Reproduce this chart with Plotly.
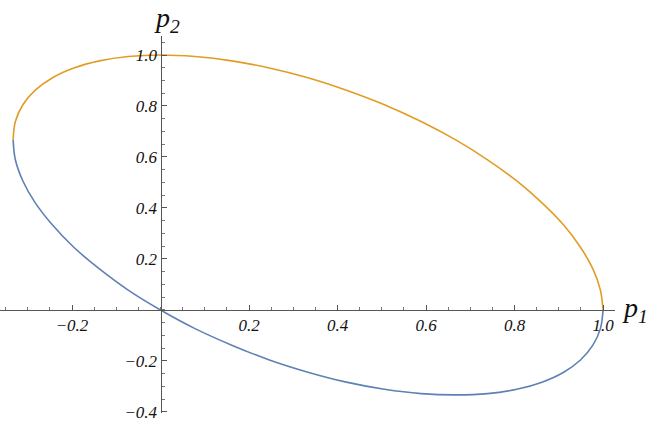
import plotly.graph_objects as go

BLUE = "#5E81B5"
ORANGE = "#E19C24"

# curve points
blue_p1 = [-0.333, -0.328, -0.311, -0.283, -0.244, -0.196, -0.138, -0.073, 0.0,
           0.078, 0.161, 0.246, 0.333, 0.420, 0.506, 0.589, 0.667, 0.739, 0.805,
           0.862, 0.911, 0.949, 0.977, 0.994, 1.0]
blue_p2 = [0.667, 0.589, 0.506, 0.420, 0.333, 0.246, 0.161, 0.078, 0.0,
           -0.073, -0.138, -0.196, -0.244, -0.283, -0.311, -0.328, -0.333, -0.328, -0.311,
           -0.283, -0.244, -0.196, -0.138, -0.073, 0.0]
orange_p1 = [1.0, 0.994, 0.977, 0.949, 0.911, 0.862, 0.805, 0.739, 0.667,
             0.589, 0.506, 0.420, 0.333, 0.246, 0.161, 0.078, 0.0,
             -0.073, -0.138, -0.196, -0.244, -0.283, -0.311, -0.328, -0.333]
orange_p2 = [0.0, 0.078, 0.161, 0.246, 0.333, 0.420, 0.506, 0.589, 0.667,
             0.739, 0.805, 0.862, 0.911, 0.949, 0.977, 0.994, 1.0,
             0.994, 0.977, 0.949, 0.911, 0.862, 0.805, 0.739, 0.667]

x_ticks = [-0.2, 0.2, 0.4, 0.6, 0.8, 1.0]
x_ticktext = ["\u22120.2", "0.2", "0.4", "0.6", "0.8", "1.0"]
y_ticks = [-0.4, -0.2, 0.2, 0.4, 0.6, 0.8, 1.0]
y_ticktext = ["\u22120.4", "\u22120.2", "0.2", "0.4", "0.6", "0.8", "1.0"]

X_RANGE = [-0.3627, 1.027]
Y_RANGE = [-0.404, 1.0745]

tick_font = dict(family="Liberation Serif", size=17, color="#111", style="italic")
label_font = dict(family="Liberation Serif", size=28, color="#111", style="italic")

fig = go.Figure()
fig.add_trace(go.Scatter(x=blue_p1, y=blue_p2, mode="lines",
                         line=dict(color=BLUE, width=1.6, shape="spline"), showlegend=False))
fig.add_trace(go.Scatter(x=orange_p1, y=orange_p2, mode="lines",
                         line=dict(color=ORANGE, width=1.6, shape="spline"), showlegend=False))

xpos = (0 - Y_RANGE[0]) / (Y_RANGE[1] - Y_RANGE[0])
ypos = (0 - X_RANGE[0]) / (X_RANGE[1] - X_RANGE[0])

minor = dict(tickmode="linear", tick0=0, dtick=0.05, ticks="inside", ticklen=3, tickcolor="#777")

fig.update_layout(
    width=650, height=425,
    margin=dict(l=0, r=35, t=36, b=12),
    paper_bgcolor="white", plot_bgcolor="white",
    xaxis=dict(range=X_RANGE, anchor="free", position=xpos, showgrid=False, zeroline=False,
               showline=True, linecolor="#555", linewidth=1,
               tickmode="array", tickvals=x_ticks, ticktext=x_ticktext,
               ticks="inside", ticklen=5, tickcolor="#555", tickfont=tick_font, minor=minor),
    yaxis=dict(range=Y_RANGE, anchor="free", position=ypos, showgrid=False, zeroline=False,
               showline=True, linecolor="#555", linewidth=1,
               tickmode="array", tickvals=y_ticks, ticktext=y_ticktext,
               ticks="inside", ticklen=5, tickcolor="#555", tickfont=tick_font, minor=minor),
    annotations=[
        dict(text="p<sub>2</sub>", x=0, y=1.0745, xref="x", yref="y", yanchor="bottom",
             xanchor="center", showarrow=False, font=label_font, yshift=-3, xshift=6),
        dict(text="p<sub>1</sub>", x=1.027, y=0, xref="x", yref="y", xanchor="left",
             yanchor="middle", showarrow=False, font=label_font, xshift=5),
    ],
)

fig.write_html("out.html", config={"displayModeBar": False},
               post_script="document.body.style.margin='0';")
